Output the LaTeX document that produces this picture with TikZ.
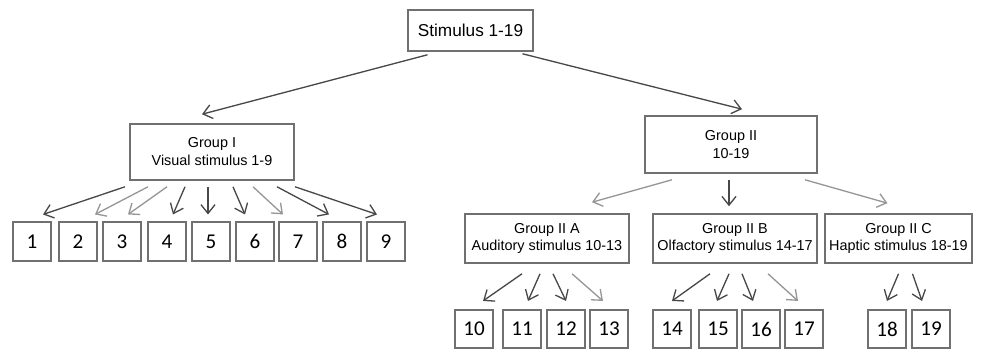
\documentclass[tikz,border=0pt]{standalone}
\usepackage{fontspec}
\setmainfont{Liberation Sans}
\newfontfamily\digitfont{Carlito}
\usetikzlibrary{arrows.meta}

\definecolor{boxgray}{RGB}{112,112,112}
\definecolor{arrgray}{RGB}{72,72,72}
\definecolor{palegray}{RGB}{150,150,150}

\tikzset{
  grp/.style={draw=boxgray,line width=0.9pt,align=center,inner sep=0pt,
    font=\fontsize{8.2}{10.2}\selectfont},
  num/.style={draw=boxgray,line width=0.9pt,inner sep=0pt,minimum width=0.76cm,
    minimum height=0.77cm,font=\digitfont\fontsize{12}{14}\selectfont},
  arr/.style={color=arrgray,line width=0.75pt,-{Straight Barb[length=5pt,width=8pt]}},
  pale/.style={draw=palegray}
}

\begin{document}
\begin{tikzpicture}[x=0.02cm,y=-0.02cm]
\useasboundingbox (0,0) rectangle (990,350);

% top of the tree
\node[grp,minimum width=2.5cm,minimum height=0.82cm,font=\fontsize{9.8}{12}\selectfont]
  (stim) at (470.5,30.5) {Stimulus 1-19};

\node[grp,minimum width=3.28cm,minimum height=1.12cm] (g1) at (212,152)
  {Group I\\Visual stimulus 1-9};
\node[grp,minimum width=3.44cm,minimum height=1.14cm] (g2) at (731,144.5)
  {Group II\\10-19};

\node[grp,minimum width=3.28cm,minimum height=0.98cm] (g2a) at (547,238.5)
  {Group II A\\Auditory stimulus 10-13};
\node[grp,minimum width=3.28cm,minimum height=0.98cm] (g2b) at (735,238.5)
  {Group II B\\Olfactory stimulus 14-17};
\node[grp,minimum width=2.94cm,minimum height=0.98cm] (g2c) at (898.5,238.5)
  {Group II C\\Haptic stimulus 18-19};

% visual stimuli
\node[num] (n1) at (32,241.5) {1};
\node[num] (n2) at (78,241.5) {2};
\node[num] (n3) at (122,241.5) {3};
\node[num] (n4) at (167,241.5) {4};
\node[num] (n5) at (211,241.5) {5};
\node[num] (n6) at (255,241.5) {6};
\node[num] (n7) at (298,241.5) {7};
\node[num] (n8) at (342,241.5) {8};
\node[num] (n9) at (386,241.5) {9};

% auditory, olfactory, haptic stimuli
\node[num] (n10) at (474,329) {10};
\node[num] (n11) at (522,329) {11};
\node[num] (n12) at (566,329) {12};
\node[num] (n13) at (609,329) {13};
\node[num] (n14) at (672,329) {14};
\node[num] (n15) at (718,329) {15};
\node[num] (n16) at (761,329) {16};
\node[num] (n17) at (804,329) {17};
\node[num] (n18) at (887,329) {18};
\node[num] (n19) at (931,329) {19};

\path[arr]
    ([shift={(-43,3)}]stim.south) edge ([shift={(-10,-9)}]g1.north)
    ([shift={(52,2)}]stim.south) edge ([shift={(11,-6)}]g2.north)
    ([shift={(-59,6)}]g2.south) edge[pale] ([shift={(45,-11)}]g2a.north)
    ([shift={(-2,6)}]g2.south) edge ([shift={(-6,-7)}]g2b.north)
    ([shift={(74,6)}]g2.south) edge[pale] ([shift={(-11,-10)}]g2c.north);

\path[arr]
    ([shift={(-87,6)}]g1.south) edge ([shift={(11,-7)}]n1.north)
    ([shift={(-64,6)}]g1.south) edge[pale] ([shift={(17,-7)}]n2.north)
    ([shift={(-45,6)}]g1.south) edge[pale] ([shift={(6,-7)}]n3.north)
    ([shift={(-27,6)}]g1.south) edge ([shift={(6,-7)}]n4.north)
    ([shift={(-4,6)}]g1.south) edge ([shift={(-3,-7)}]n5.north)
    ([shift={(21,6)}]g1.south) edge ([shift={(-10,-7)}]n6.north)
    ([shift={(41,6)}]g1.south) edge[pale] ([shift={(-15,-7)}]n7.north)
    ([shift={(65,6)}]g1.south) edge ([shift={(-13,-7)}]n8.north)
    ([shift={(83,6)}]g1.south) edge ([shift={(-9,-7)}]n9.north);

\path[arr]
    ([shift={(-25,10)}]g2a.south) edge ([shift={(9,-8)}]n10.north)
    ([shift={(-7,10)}]g2a.south) edge ([shift={(6,-8)}]n11.north)
    ([shift={(6,10)}]g2a.south) edge ([shift={(0,-8)}]n12.north)
    ([shift={(25,10)}]g2a.south) edge[pale] ([shift={(-6,-8)}]n13.north)
    ([shift={(-25,10)}]g2b.south) edge ([shift={(0,-8)}]n14.north)
    ([shift={(-6,10)}]g2b.south) edge ([shift={(-1,-8)}]n15.north)
    ([shift={(7,10)}]g2b.south) edge ([shift={(-8,-8)}]n16.north)
    ([shift={(33,10)}]g2b.south) edge[pale] ([shift={(-6,-8)}]n17.north)
    ([shift={(0,10)}]g2c.south) edge ([shift={(0,-8)}]n18.north)
    ([shift={(14,10)}]g2c.south) edge ([shift={(-9,-8)}]n19.north);
\end{tikzpicture}
\end{document}
